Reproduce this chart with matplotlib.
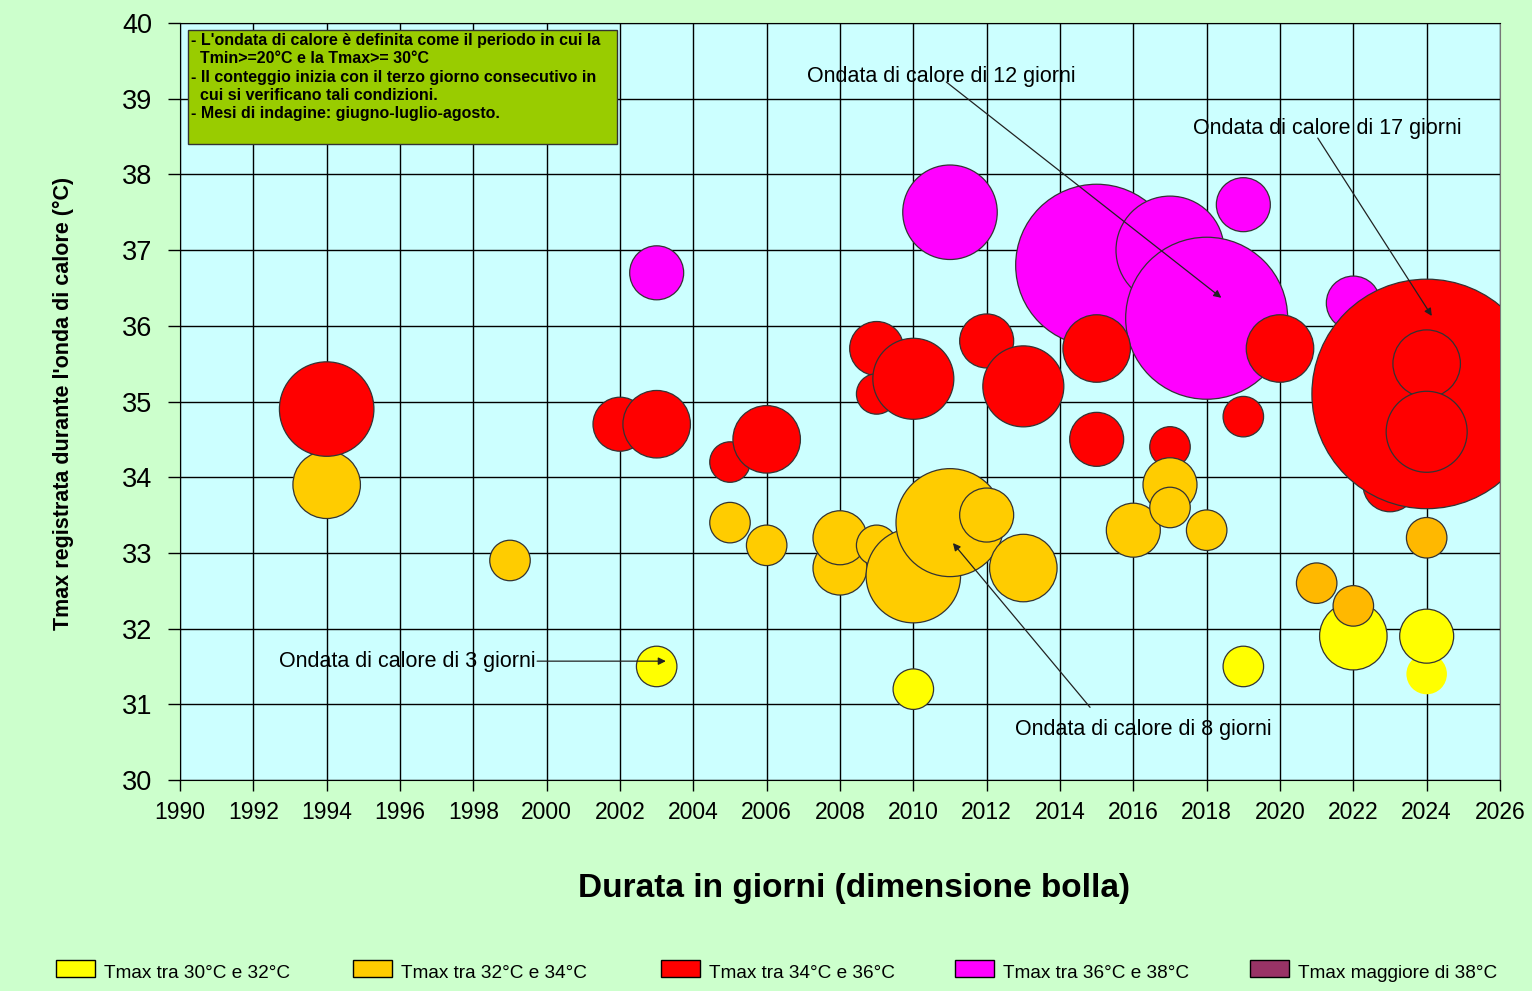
import matplotlib
matplotlib.use("Agg")
import matplotlib.pyplot as plt
from matplotlib.patches import Rectangle

plt.rcParams["font.family"] = ["Liberation Sans", "DejaVu Sans"]

# ── data (drawing order matters: later bubbles sit on top) ──────────────────
years = [2003, 2011, 2015, 2017, 2018, 2019, 2022,
         1994, 1994, 1999, 2002, 2003, 2003, 2005, 2005, 2006, 2006,
         2008, 2008, 2009, 2009, 2009, 2010, 2010, 2010, 2011, 2012, 2012,
         2013, 2013, 2015, 2015, 2016, 2017, 2017, 2017, 2018, 2019, 2019,
         2020, 2021, 2022, 2022, 2023, 2024, 2024, 2024, 2024, 2024, 2024]
tmax = [36.7, 37.5, 36.8, 37.0, 36.1, 37.6, 36.3,
        33.9, 34.9, 32.9, 34.7, 34.7, 31.5, 34.2, 33.4, 34.5, 33.1,
        32.8, 33.2, 35.7, 35.1, 33.1, 35.3, 32.7, 31.2, 33.4, 35.8, 33.5,
        35.2, 32.8, 35.7, 34.5, 33.3, 34.4, 33.9, 33.6, 33.3, 34.8, 31.5,
        35.7, 32.6, 31.9, 32.3, 33.9, 35.1, 35.5, 34.6, 33.2, 31.4, 31.9]
days = [4, 7, 12, 8, 12, 4, 4,
        5, 7, 3, 4, 5, 3, 3, 3, 5, 3,
        4, 4, 4, 3, 3, 6, 7, 3, 8, 4, 4,
        6, 5, 5, 4, 4, 3, 4, 3, 3, 3, 3,
        5, 3, 5, 3, 4, 17, 5, 6, 3, 3, 4]
klass = ["M", "M", "M", "M", "M", "M", "M",
         "O", "R", "O", "R", "R", "Y", "R", "O", "R", "O",
         "O", "O", "R", "R", "O", "R", "O", "Y", "O", "R", "O",
         "R", "O", "R", "R", "O", "R", "O", "O", "O", "R", "Y",
         "R", "O2", "Y", "O2", "R", "R", "R", "R", "O2", "Y", "Y"]

legend_labels = ["Tmax tra 30°C e 32°C", "Tmax tra 32°C e 34°C",
                 "Tmax tra 34°C e 36°C", "Tmax tra 36°C e 38°C",
                 "Tmax maggiore di 38°C"]
legend_colors = ["#ffff00", "#ffcc00", "#ff0000", "#ff00ff", "#993366"]

palette = {"Y": "#ffff00", "O": "#ffcc00", "O2": "#ffb800",
           "R": "#ff0000", "M": "#ff00ff"}

notes = ("- L'ondata di calore è definita come il periodo in cui la\n"
         "  Tmin>=20°C e la Tmax>= 30°C\n"
         "- Il conteggio inizia con il terzo giorno consecutivo in\n"
         "  cui si verificano tali condizioni.\n"
         "- Mesi di indagine: giugno-luglio-agosto.")

# (label, text position, arrow tail, arrow head) in data coordinates
callouts = [
    ("Ondata di calore di 12 giorni", (2010.75, 39.29), (2010.9, 39.22), (2018.4, 36.37)),
    ("Ondata di calore di 17 giorni", (2021.28, 38.61), (2021.03, 38.48), (2024.14, 36.13)),
    ("Ondata di calore di 3 giorni", (1996.19, 31.57), (1999.74, 31.57), (2003.25, 31.57)),
    ("Ondata di calore di 8 giorni", (2016.26, 30.67), (2014.82, 30.96), (2011.08, 33.13)),
]

BG_OUT = "#ccffcc"
BG_IN = "#ccffff"

fig = plt.figure(figsize=(15.32, 9.91), dpi=100, facecolor=BG_OUT)
ax = fig.add_axes([180 / 1532, 1 - 780 / 991, 1320 / 1532, 757 / 991])
ax.set_facecolor(BG_IN)

# bubble diameter grows linearly with the duration (Excel "width" sizing)
sizes = [(d * 9.72) ** 2 for d in days]
fills = [palette[k] for k in klass]
edges = ["#333333"] * len(days)
edges[-2] = "none"  # faded bubble in 2024
ax.scatter(years, tmax, s=sizes, c=fills, edgecolors=edges, linewidths=0.9,
           zorder=3)

ax.set_xlim(1990, 2026)
ax.set_ylim(30, 40)
ax.set_xticks(range(1990, 2027, 2))
ax.set_yticks(range(30, 41))
ax.grid(True, color="black", linewidth=1.0, zorder=1)
ax.set_axisbelow(True)
ax.tick_params(axis="y", length=9, width=1, labelsize=19.5, pad=11)
ax.tick_params(axis="x", length=8, width=1, labelsize=16.5, pad=7)
for side in ("left", "bottom", "top"):
    ax.spines[side].set_color("black")
ax.spines["right"].set_color("#777777")

ax.set_ylabel("Tmax registrata durante l'onda di calore (°C)",
              fontsize=15.5, fontweight="bold")
ax.yaxis.set_label_coords(-0.080, 0.497)
fig.text(854 / 1532, 1 - 888 / 991, "Durata in giorni (dimensione bolla)",
         ha="center", va="center", fontsize=24, fontweight="bold")

# info box
ax.add_patch(Rectangle((1990.22, 38.40), 11.70, 1.51, facecolor="#99cc00",
                       edgecolor="#333333", linewidth=1, zorder=5))
ax.text(1990.3, 39.87, notes, fontsize=11.5, fontweight="bold", va="top",
        ha="left", linespacing=1.28, zorder=6)

for label, txy, tail, head in callouts:
    ax.text(txy[0], txy[1], label, fontsize=15.5, ha="center", va="center",
            zorder=6)
    ax.annotate("", xy=head, xytext=tail, zorder=6,
                arrowprops=dict(arrowstyle="-|>", color="#222222", lw=0.9,
                                mutation_scale=11, shrinkA=0, shrinkB=0))

# bottom legend
legend_x = [56, 353, 661, 955, 1250]
for x0, col, lab in zip(legend_x, legend_colors, legend_labels):
    fig.patches.append(Rectangle((x0 / 1532, 1 - 977 / 991), 39 / 1532, 17 / 991,
                                 transform=fig.transFigure, facecolor=col,
                                 edgecolor="black", linewidth=1))
    fig.text((x0 + 48) / 1532, 1 - 973 / 991, lab, fontsize=13.7,
             ha="left", va="center")

fig.savefig("out.png", dpi=100, facecolor=BG_OUT)
